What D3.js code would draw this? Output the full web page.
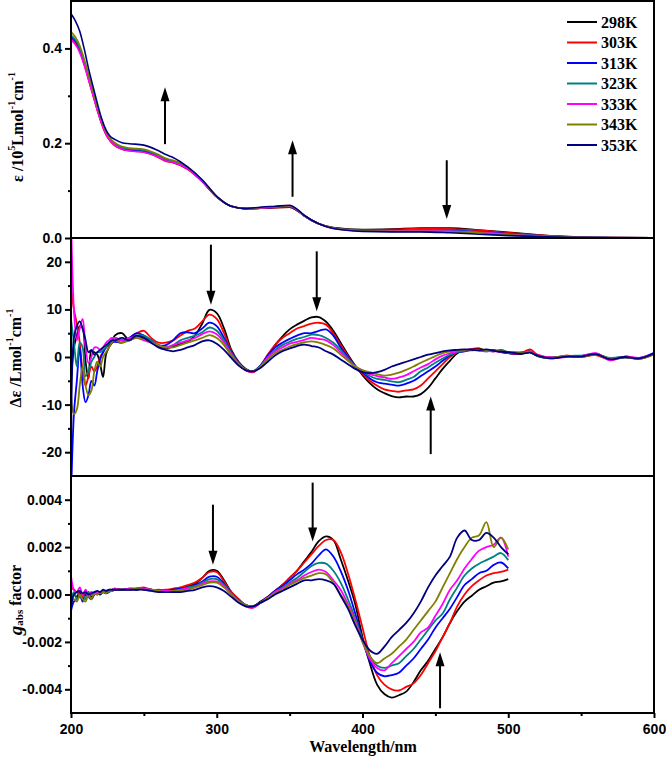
<!DOCTYPE html>
<html><head><meta charset="utf-8">
<script src="https://cdn.jsdelivr.net/npm/d3@7"></script>
<style>body{margin:0;background:#fff}</style>
</head><body><svg id="c" width="666" height="757"></svg>
<script>
// ---------- DATA ----------
const temps = ["298K","303K","313K","323K","333K","343K","353K"];
const colors = ["#000000","#ff0000","#0000ff","#008080","#ff00ff","#808000","#000080"];

// Panel 1: absorption, epsilon / 10^5 L mol-1 cm-1
const wlAbs = [200,203,206,209,212,215,218,221,224,227,230,235,240,250,260,265,270,280,290,300,310,320,330,340,350,355,360,370,380,400,420,440,460,480,500,520,540,560,600];
const abs298 = [.425,.414,.397,.370,.338,.305,.272,.243,.22,.205,.196,.188,.185,.182,.171,.163,.160,.146,.120,.087,.067,.062,.063,.064,.065,.058,.047,.030,.022,.018,.019,.021,.021,.017,.012,.007,.003,.001,.0003];
const abs303 = [.422,.411,.394,.367,.335,.302,.270,.241,.218,.204,.195,.187,.184,.181,.170,.162,.159,.145,.119,.086,.067,.062,.063,.064,.065,.058,.047,.030,.021,.017,.018,.020,.019,.016,.011,.006,.003,.001,.0003];
const abs313 = [.426,.416,.399,.372,.340,.307,.274,.245,.221,.206,.197,.189,.186,.183,.172,.164,.161,.147,.120,.087,.067,.062,.063,.065,.066,.059,.047,.030,.021,.016,.016,.017,.016,.013,.009,.005,.002,.001,.0003];
const abs323 = [.428,.418,.401,.374,.342,.309,.276,.247,.223,.208,.199,.191,.188,.185,.174,.166,.162,.148,.121,.087,.067,.062,.064,.066,.067,.060,.047,.030,.021,.016,.015,.016,.015,.012,.008,.005,.002,.001,.0003];
const abs333 = [.418,.408,.391,.365,.334,.302,.270,.242,.219,.205,.196,.188,.184,.181,.171,.163,.160,.146,.120,.087,.067,.062,.063,.066,.067,.060,.047,.030,.020,.015,.015,.015,.014,.012,.008,.004,.002,.001,.0003];
const abs343 = [.435,.424,.406,.378,.345,.311,.278,.249,.225,.210,.201,.193,.190,.187,.176,.168,.164,.150,.122,.088,.067,.062,.064,.066,.068,.060,.047,.030,.021,.015,.014,.014,.013,.011,.007,.004,.002,.001,.0003];
const abs353 = [.473,.458,.436,.400,.358,.321,.285,.252,.228,.214,.208,.201,.199,.196,.184,.176,.170,.150,.123,.088,.067,.062,.065,.067,.069,.061,.048,.030,.020,.014,.013,.013,.011,.008,.005,.003,.0015,.0008,.0003];

// Panel 2: CD, delta epsilon / L mol-1 cm-1
const wlCD = [200,202,204,206,208,210,212,214,216,218,220,222,224,226,228,230,
  235,240,245,250,255,260,265,270,275,280,285,290,295,300,305,310,315,320,325,330,
  335,340,345,350,355,360,365,370,375,380,385,390,395,400,405,410,415,420,425,430,
  435,440,445,450,455,460,465,470,475,480,485,490,495,500,
  505,510,515,520,530,540,550,560,570,580,590,600];
const cd298 = [-5,2,4.5,6.5,6.0,-1.0,-4.5,1.3,1.0,0.5,-1.5,-4.2,0.5,2.0,3.0,4.5,
  5.0,3.5,4.5,4.0,3.5,2.3,1.8,2.2,2.7,3.2,4.5,7.0,9.9,9.2,6.0,1.5,-1.0,-2.5,-3.0,-1.8,
  0.2,2.5,4.3,5.8,6.8,7.6,8.3,8.4,7.4,5.5,3.0,0.5,-1.8,-3.8,-5.5,-6.8,-7.6,-8.2,-8.5,-8.3,
  -8.3,-7.8,-6.5,-4.5,-2.5,-0.8,0.8,1.3,1.7,1.8,1.3,1.5,1.0,0.8,
  0.6,0.7,1.2,0.3,-0.1,0.2,0.0,0.6,-0.3,0.0,-0.4,0.7];
const cd303 = [15,10,7,3,-3,-6,-4,-2,-3,-2,0,1,2,2.5,3,3.5,
  3.5,4.0,5.0,5.5,4.0,3.0,3.0,3.5,4.5,5.5,6.0,7.5,8.9,8.0,5.0,1.2,-1.2,-2.8,-3.2,-1.8,
  0.5,2.5,4.0,5.0,6.0,6.5,7.0,7.2,6.8,5.0,2.5,0.2,-2.0,-3.5,-5.0,-6.0,-6.8,-7.1,-7.3,-7.0,
  -6.8,-6.0,-4.5,-3.0,-1.5,0.0,1.0,1.3,1.5,1.6,1.4,1.2,1.5,1.0,
  0.9,1.0,1.6,0.5,-0.2,0.3,0.1,0.4,-0.6,0.1,-0.3,0.6];
const cd313 = [-30,-12,-5,2,-6,-9.5,-8,-5,-6,-3,-0.5,1,2,2.5,3,3.2,
  3.0,4.0,5.0,4.5,3.5,2.5,2.5,3.5,5.0,5.2,5.0,6.0,7.2,6.5,4.0,1.0,-1.2,-2.7,-3.0,-1.8,
  0.3,2.0,3.0,3.8,4.5,5.0,5.0,5.5,5.8,4.5,2.0,0.0,-2.0,-3.2,-4.5,-5.3,-5.6,-5.8,-6.0,-5.6,
  -5.0,-4.0,-3.0,-2.0,-0.8,0.3,1.0,1.2,1.5,1.4,1.2,1.4,1.0,0.8,
  0.8,0.9,1.1,0.2,-0.3,0.1,0.2,0.7,-0.4,-0.1,-0.2,0.9];
const cd323 = [8,3,-2,3,2,-4,-3,-1,0,1,1,1.5,2,3,3.5,4,
  3.5,3.5,4.5,4.5,3.5,2.5,2.0,2.5,3.5,4.0,4.5,5.2,6.2,5.5,3.5,0.8,-1.3,-2.7,-3.0,-1.9,
  0.0,1.5,2.5,3.2,3.8,4.2,4.7,4.6,4.0,3.0,1.5,-0.3,-2.0,-3.0,-4.0,-4.6,-4.8,-5.1,-5.3,-4.8,
  -4.2,-3.0,-2.2,-1.2,-0.3,0.5,1.0,1.3,1.4,1.5,1.3,1.2,1.4,1.0,
  0.9,0.8,1.0,0.3,-0.2,0.2,0.3,0.5,-0.2,0.0,-0.3,0.6];
const cd333 = [30,10,3.5,6,8,2,-1.3,0,2,2,1.5,2,3,3.5,4,4,
  3.5,4.0,4.0,3.5,3.0,2.5,2.0,2.5,3.0,3.5,4.0,4.8,5.4,4.8,3.0,0.5,-1.5,-2.8,-3.1,-2.0,
  -0.2,1.2,2.0,2.8,3.2,3.6,4.0,3.8,3.5,2.5,1.0,-0.5,-2.0,-2.8,-3.6,-4.0,-4.3,-4.6,-4.3,-3.8,
  -3.0,-2.2,-1.5,-0.5,0.3,0.8,1.2,1.5,1.6,1.4,1.3,1.2,1.1,0.9,
  0.7,0.9,1.1,0.4,-0.1,0.0,0.2,0.8,-0.7,0.1,-0.2,0.7];
const cd343 = [-8,-12,-11,-6,-2,-6,-8,-7,-3,-1,-2,0,1,2,3,3.5,
  3.0,3.5,4.0,3.8,3.0,2.5,2.0,2.0,2.5,3.0,3.5,4.0,4.6,4.0,2.5,0.3,-1.5,-2.7,-3.0,-2.0,
  -0.5,0.8,1.5,2.2,2.7,3.1,3.3,3.0,2.5,1.8,0.5,-0.8,-2.0,-2.8,-3.2,-3.6,-3.9,-3.7,-3.3,-2.7,
  -2.0,-1.2,-0.5,0.2,0.8,1.2,1.4,1.5,1.5,1.4,1.3,1.4,1.2,1.0,
  1.0,0.8,1.0,0.2,-0.2,0.3,0.0,0.5,-0.3,-0.1,-0.4,0.5];
const cd353 = [-30,4,6.5,7.5,6,3.5,1,1.5,0.5,1,1.5,2,2.5,3,3.5,3.5,
  4.0,3.5,4.5,4.0,3.0,2.0,1.5,1.2,1.5,2.0,2.5,3.3,3.5,2.8,1.5,-0.2,-1.8,-2.8,-3.0,-2.3,
  -1.0,0.3,1.2,1.8,2.3,2.6,2.3,2.0,1.2,0.5,-0.5,-1.5,-2.5,-3.2,-3.4,-3.2,-2.7,-2.0,-1.5,-1.0,
  -0.5,0.0,0.5,0.8,1.2,1.4,1.5,1.6,1.5,1.4,1.6,1.3,1.1,1.0,
  0.8,0.7,0.9,0.3,-0.3,0.1,0.1,0.6,-0.5,0.0,-0.3,0.8];

// Panel 3: g_abs factor, values in units of 1e-3
const gUnit = 1e-3;
const wlG = [200,202,204,206,208,210,212,214,216,218,220,222,224,226,228,230,
  235,240,245,250,255,260,265,270,275,280,285,290,295,300,305,310,315,320,325,330,
  335,340,345,350,355,360,365,370,375,380,385,390,395,400,405,410,415,420,425,430,
  435,440,445,450,455,460,465,470,475,480,485,490,495,500];
const g298 = [-0.3,0.0,-0.1,0.1,-0.2,0.0,0.1,-0.1,0.0,0.1,0.0,0.1,0.05,0.1,0.2,0.25,
  0.2,0.2,0.25,0.25,0.2,0.15,0.15,0.2,0.25,0.35,0.45,0.7,1.0,1.0,0.6,0.1,-0.2,-0.45,-0.5,-0.3,
  -0.1,0.15,0.4,0.7,1.0,1.4,1.8,2.25,2.45,2.3,1.5,0.6,-0.4,-1.8,-2.9,-3.8,-4.2,-4.35,-4.25,-4.1,
  -3.7,-3.2,-2.8,-2.3,-1.8,-1.2,-0.7,-0.3,-0.05,0.2,0.35,0.5,0.55,0.65];
const g303 = [0.3,0.2,0.1,0.0,-0.1,0.1,0.0,0.1,0.0,0.05,0.1,0.1,0.1,0.15,0.2,0.2,
  0.2,0.25,0.25,0.3,0.2,0.2,0.2,0.25,0.3,0.4,0.5,0.7,0.95,0.95,0.55,0.1,-0.2,-0.5,-0.55,-0.35,
  -0.1,0.15,0.4,0.7,1.0,1.35,1.7,2.05,2.3,2.3,1.8,0.9,-0.2,-1.4,-2.6,-3.4,-3.8,-4.0,-4.05,-3.9,
  -3.75,-3.4,-2.9,-2.4,-1.8,-1.2,-0.5,0.0,0.35,0.6,0.8,0.9,0.95,1.05];
const g313 = [-0.7,-0.3,-0.2,0.0,-0.3,0.0,-0.1,-0.2,0.0,0.1,0.05,0.15,0.1,0.2,0.15,0.2,
  0.2,0.25,0.2,0.25,0.2,0.15,0.15,0.2,0.25,0.3,0.4,0.55,0.75,0.75,0.45,0.05,-0.25,-0.45,-0.5,-0.35,
  -0.1,0.15,0.35,0.6,0.85,1.05,1.3,1.65,1.9,1.6,1.0,0.2,-0.8,-1.9,-2.8,-3.3,-3.45,-3.4,-3.3,-3.0,
  -2.7,-2.3,-1.9,-1.4,-1.0,-0.6,-0.1,0.4,0.65,0.9,1.0,1.25,1.35,1.1];
const g323 = [-0.2,0.1,-0.2,-0.1,0.0,-0.2,0.1,0.0,0.1,0.0,0.1,0.1,0.15,0.1,0.2,0.2,
  0.2,0.2,0.25,0.25,0.2,0.15,0.15,0.15,0.2,0.3,0.35,0.5,0.65,0.65,0.4,0.05,-0.25,-0.45,-0.5,-0.35,
  -0.15,0.1,0.3,0.5,0.7,0.95,1.2,1.33,1.3,1.0,0.5,-0.2,-1.0,-1.9,-2.6,-3.0,-3.1,-3.0,-2.9,-2.6,
  -2.3,-1.9,-1.5,-1.1,-0.8,-0.2,0.3,0.8,1.1,1.3,1.45,1.6,1.75,1.45];
const g333 = [0.8,0.2,0.1,0.3,0.0,0.2,-0.1,0.1,0.0,0.1,0.05,0.1,0.15,0.2,0.2,0.25,
  0.2,0.25,0.25,0.25,0.2,0.15,0.15,0.15,0.2,0.25,0.3,0.45,0.55,0.55,0.35,0.0,-0.3,-0.5,-0.55,-0.35,
  -0.15,0.1,0.25,0.45,0.6,0.8,0.95,1.05,0.95,0.6,0.2,-0.4,-1.1,-2.0,-2.7,-3.1,-3.2,-2.9,-2.6,-2.3,
  -2.0,-1.6,-1.4,-0.9,-0.4,0.2,0.6,1.1,1.5,1.85,2.0,2.1,2.4,1.6];
const g343 = [-0.3,-0.2,-0.3,0.0,-0.2,-0.3,0.0,-0.2,0.05,0.0,0.1,0.1,0.05,0.15,0.15,0.2,
  0.2,0.2,0.25,0.2,0.2,0.15,0.1,0.15,0.15,0.2,0.3,0.4,0.5,0.5,0.3,0.0,-0.3,-0.45,-0.5,-0.35,
  -0.15,0.05,0.2,0.4,0.55,0.7,0.8,0.9,0.85,0.5,0.0,-0.5,-1.2,-2.0,-2.6,-2.9,-2.7,-2.5,-2.2,-1.9,
  -1.5,-1.1,-0.7,-0.3,0.3,0.9,1.5,2.0,2.4,2.5,3.05,2.0,2.4,1.9];
const g353 = [-0.6,0.0,0.1,0.15,0.05,0.1,0.0,0.05,0.1,0.15,0.1,0.2,0.15,0.2,0.2,0.2,
  0.2,0.2,0.2,0.2,0.15,0.1,0.1,0.1,0.1,0.15,0.2,0.3,0.35,0.3,0.15,-0.1,-0.35,-0.5,-0.5,-0.35,
  -0.2,0.0,0.15,0.3,0.45,0.6,0.6,0.65,0.6,0.45,-0.05,-0.6,-1.3,-1.9,-2.35,-2.5,-2.2,-1.8,-1.5,-1.2,
  -0.8,-0.3,0.3,0.8,1.2,1.6,2.4,2.7,2.3,2.3,2.6,2.4,2.0,1.7];

// Axis ticks
const xTicks = [200,300,400,500,600];
const xMinor = [250,350,450,550];
const yTicksAbs = [0.0,0.2,0.4];
const yMinorAbs = [0.1,0.3];
const yTicksCD = [-20,-10,0,10,20];
const yMinorCD = [-15,-5,5,15];
const yTicksG = [-0.004,-0.002,0,0.002,0.004];
const yMinorG = [-0.003,-0.001,0.001,0.003];

// Trend arrows: [wavelength, tail value, tip value]
const arrowsAbs = [[264.5,0.198,0.318],[352,0.087,0.206],[457.8,0.164,0.040]];
const arrowsCD = [[296,23.6,11.0],[368.6,22.2,9.6],[446.8,-20.4,-8.3]];
const arrowsG = [[297.4,0.00379,0.00126],[365.8,0.00472,0.00224],[453.2,-0.0048,-0.00244]];

// ---------- DRAW ----------
const svg = d3.select("#c");
const SANS = "'Liberation Sans', Arial, sans-serif";
const SERIF = "'Liberation Serif', 'Times New Roman', serif";
const x = d3.scaleLinear().domain([200,600]).range([71,654]);

const panels = [
  {top:1, bottom:238, domain:[0,0.5], wl:wlAbs, series:[abs298,abs303,abs313,abs323,abs333,abs343,abs353], k:1,
   ticks:yTicksAbs, minor:yMinorAbs, fmt:d=>d.toFixed(1), arrows:arrowsAbs, curve:d3.curveMonotoneX, sw:1.6},
  {top:238, bottom:476, domain:[-25,25], wl:wlCD, series:[cd298,cd303,cd313,cd323,cd333,cd343,cd353], k:1,
   ticks:yTicksCD, minor:yMinorCD, fmt:d=>String(d), arrows:arrowsCD, curve:d3.curveCatmullRom.alpha(0.5), sw:1.8},
  {top:476, bottom:713, domain:[-0.005,0.005], wl:wlG, series:[g298,g303,g313,g323,g333,g343,g353], k:gUnit,
   ticks:yTicksG, minor:yMinorG, fmt:d=>d.toFixed(3), arrows:arrowsG, curve:d3.curveCatmullRom.alpha(0.5), sw:1.8}
];

const defs = svg.append("defs");
panels.forEach((p,pi)=>{
  const y = d3.scaleLinear().domain(p.domain).range([p.bottom,p.top]);
  defs.append("clipPath").attr("id","clip"+pi).append("rect")
    .attr("x",71).attr("y",p.top).attr("width",654-71).attr("height",p.bottom-p.top);
  const g = svg.append("g");
  const plot = g.append("g").attr("clip-path","url(#clip"+pi+")");
  const line = d3.line().x(d=>x(d[0])).y(d=>y(d[1]*p.k)).curve(p.curve);
  p.series.forEach((s,i)=>{
    plot.append("path").datum(p.wl.map((w,j)=>[w,s[j]]))
      .attr("d",line).attr("fill","none").attr("stroke",colors[i])
      .attr("stroke-width",p.sw).attr("stroke-linejoin","round");
  });
  // arrows
  p.arrows.forEach(a=>{
    const ax=x(a[0]), yt=y(a[1]), yp=y(a[2]);
    const dir = yp>yt?1:-1, hl=14, hw=4.5;
    g.append("line").attr("x1",ax).attr("x2",ax).attr("y1",yt).attr("y2",yp-dir*hl+dir*1)
      .attr("stroke","#000").attr("stroke-width",2);
    g.append("path").attr("d",`M${ax},${yp}L${ax-hw},${yp-dir*hl}L${ax+hw},${yp-dir*hl}Z`).attr("fill","#000");
  });
  // y axis
  const ax = g.append("g").attr("transform","translate(71,0)")
    .call(d3.axisLeft(y).tickValues(p.ticks).tickFormat(p.fmt).tickSize(6).tickPadding(3).tickSizeOuter(0));
  const axm = g.append("g").attr("transform","translate(71,0)")
    .call(d3.axisLeft(y).tickValues(p.minor).tickFormat("").tickSize(3).tickSizeOuter(0));
  [ax,axm].forEach(a=>{a.select(".domain").remove(); a.selectAll("line").attr("stroke-width",2);});
  ax.selectAll("text").attr("font-family",SANS).attr("font-weight","bold").attr("font-size",14).attr("fill","#000");
  // frame
  g.append("rect").attr("x",71).attr("y",p.top).attr("width",654-71).attr("height",p.bottom-p.top)
    .attr("fill","none").attr("stroke","#000").attr("stroke-width",2);
});

// x axis at bottom
const xa = svg.append("g").attr("transform","translate(0,713)")
  .call(d3.axisBottom(x).tickValues(xTicks).tickFormat(d=>String(d)).tickSize(5).tickPadding(6).tickSizeOuter(0));
const xm = svg.append("g").attr("transform","translate(0,713)")
  .call(d3.axisBottom(x).tickValues(xMinor).tickFormat("").tickSize(3).tickSizeOuter(0));
[xa,xm].forEach(a=>{a.select(".domain").remove(); a.selectAll("line").attr("stroke-width",2);});
xa.selectAll("text").attr("font-family",SANS).attr("font-weight","bold").attr("font-size",14).attr("fill","#000");

svg.append("text").attr("x",363).attr("y",752).attr("text-anchor","middle")
  .attr("font-family",SERIF).attr("font-weight","bold").attr("font-size",16).text("Wavelength/nm");

// y titles (each part: text, font size, vertical offset relative to baseline, italic)
function ytitle(cx,cy,parts){
  const t = svg.append("text").attr("transform",`translate(${cx},${cy}) rotate(-90)`)
    .attr("text-anchor","middle").attr("dominant-baseline","central")
    .attr("font-family",SERIF).attr("font-weight","bold").attr("font-size",16);
  let cur = 0;
  parts.forEach(pt=>{
    const ts = t.append("tspan").text(pt.t).attr("dy", (pt.off||0) - cur);
    cur = pt.off||0;
    if(pt.fs) ts.attr("font-size",pt.fs);
    if(pt.it) ts.attr("font-style","italic");
  });
}
ytitle(17,127,[{t:"ε /10"},{t:"5",off:-6,fs:10},{t:"Lmol"},{t:"-1",off:-6,fs:10},{t:"cm"},{t:"-1",off:-6,fs:10}]);
ytitle(15,358,[{t:"Δε /Lmol"},{t:"-1",off:-6,fs:10},{t:"cm"},{t:"-1",off:-6,fs:10}]);
ytitle(15,600,[{t:"g",it:1,fs:19},{t:"abs",off:4,fs:11},{t:" factor"}]);

// legend
const lg = svg.append("g");
temps.forEach((tk,i)=>{
  const yy = 22 + i*20.5;
  lg.append("line").attr("x1",567).attr("x2",597).attr("y1",yy).attr("y2",yy)
    .attr("stroke",colors[i]).attr("stroke-width",2);
  lg.append("text").attr("x",601).attr("y",yy).attr("dy","0.35em")
    .attr("font-family",SERIF).attr("font-weight","bold").attr("font-size",16).text(tk);
});
</script></body></html>
